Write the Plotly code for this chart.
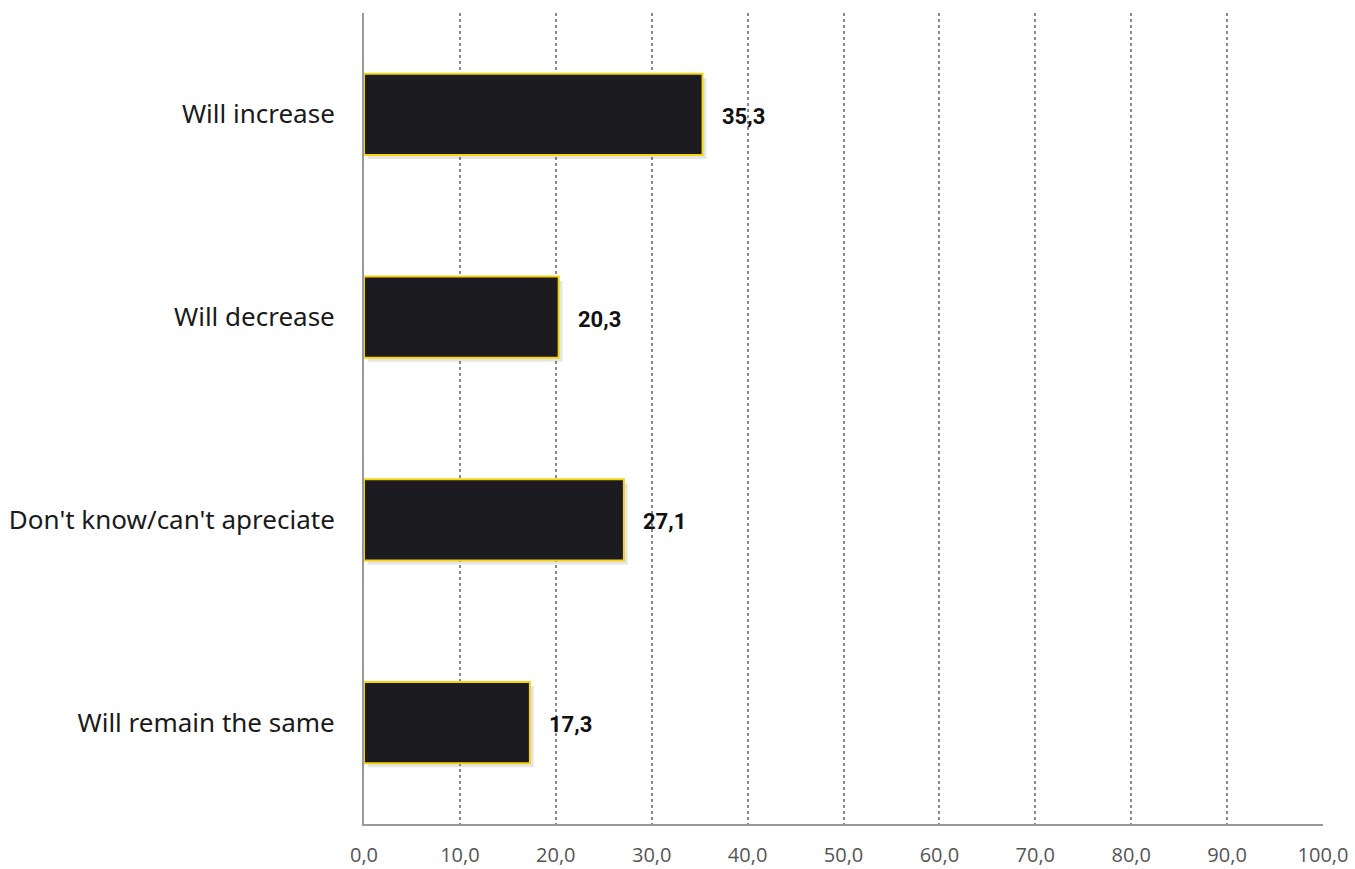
import plotly.graph_objects as go

# Survey answers, top to bottom as displayed
categories = ["Will increase", "Will decrease", "Don't know/can't apreciate", "Will remain the same"]
values = [35.3, 20.3, 27.1, 17.3]
tick_values = [0, 10, 20, 30, 40, 50, 60, 70, 80, 90, 100]

# Plotly draws horizontal categories bottom-up, so reverse them
cats_plot = categories[::-1]
vals_plot = values[::-1]

fig = go.Figure()

# soft drop shadow behind each bar
fig.add_trace(go.Bar(
    y=cats_plot, x=vals_plot, orientation="h",
    width=0.4, offset=-0.2 - 0.02,
    base=0.4,
    marker=dict(color="rgba(0,0,0,0.10)", line=dict(width=0)),
    hoverinfo="skip", showlegend=False,
))

fig.add_trace(go.Bar(
    y=cats_plot, x=vals_plot, orientation="h",
    width=0.4,
    marker=dict(color="#1c1b1f", line=dict(color="#f5d30f", width=2)),
    showlegend=False,
))

for c, v in zip(cats_plot, vals_plot):
    fig.add_annotation(
        x=v, y=c, text=f"{v:.1f}".replace(".", ","),
        xanchor="left", yanchor="middle", xshift=17, yshift=-2,
        showarrow=False,
        font=dict(family="Liberation Sans Narrow, Roboto, sans-serif", size=22, color="#111111", weight="bold"),
    )

fig.update_layout(
    width=1355, height=869,
    margin=dict(l=364, r=32, t=13, b=45),
    plot_bgcolor="white", paper_bgcolor="white",
    separators=", ",
    barmode="overlay",
    bargap=0.6,
    xaxis=dict(
        range=[0, 100], tickvals=tick_values, tickformat=".1f",
        showgrid=True, gridcolor="#8a8a8a", griddash="dot", gridwidth=1.5,
        showline=True, linecolor="#9a9a9a", linewidth=2,
        zeroline=False, automargin=False,
        ticks="", ticklabelstandoff=12,
        tickfont=dict(family="Open Sans, Noto Sans, sans-serif", size=20, color="#555555"),
        fixedrange=True,
    ),
    yaxis=dict(
        showgrid=False, showline=True, linecolor="#9a9a9a", linewidth=2,
        ticks="", ticklabelstandoff=22, automargin=False,
        tickfont=dict(family="Noto Sans, Open Sans, sans-serif", size=26, color="#1a1a1a"),
        range=[-0.5, 3.5],
        fixedrange=True,
    ),
)

fig.write_html("out.html")
